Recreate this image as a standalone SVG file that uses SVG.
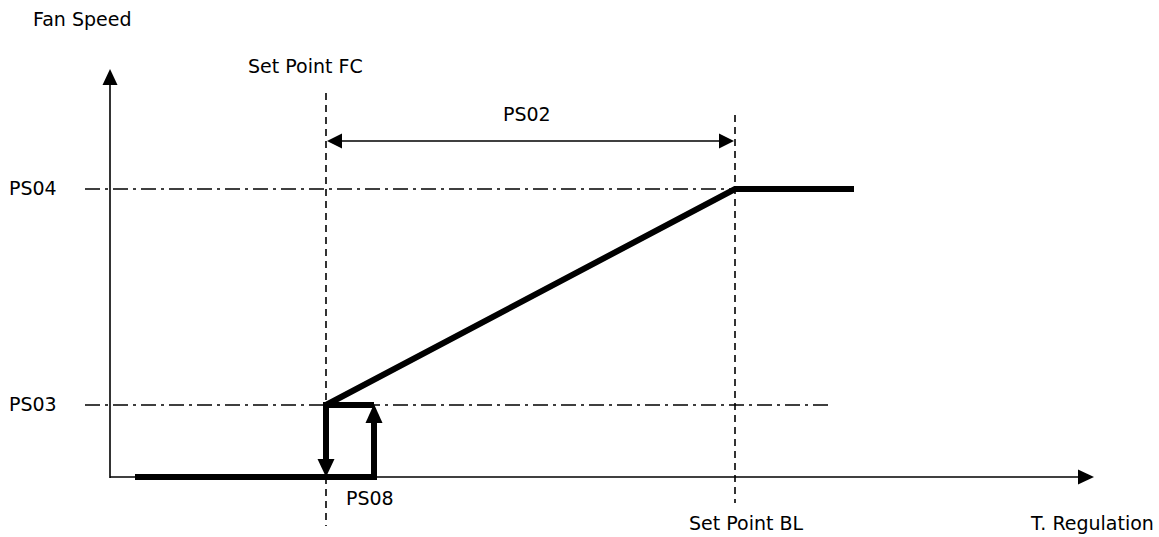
<svg xmlns="http://www.w3.org/2000/svg" width="1159" height="537" viewBox="0 0 1159 537">
<style>
text{font-family:"DejaVu Sans","Liberation Sans",sans-serif;font-size:19px;fill:#000}
.axis{stroke:#000;stroke-width:1.6;fill:none}
.dashdot{stroke:#000;stroke-width:1.6;stroke-dasharray:15 5 3 5;fill:none}
.dash{stroke:#000;stroke-width:1.6;stroke-dasharray:7 5;fill:none}
.thick{stroke:#000;stroke-width:6;fill:none;stroke-linejoin:miter}
.dim{stroke:#000;stroke-width:1.6;fill:none}
</style>
<rect width="1159" height="537" fill="#fff"/>
<g id="guides">
<line class="dashdot" x1="85" y1="189" x2="735" y2="189"/>
<line class="dashdot" x1="85" y1="405" x2="830" y2="405"/>
<line class="dash" x1="326" y1="93" x2="326" y2="526"/>
<line class="dash" x1="735" y1="115" x2="735" y2="503"/>
</g>
<g id="axes">
<line class="axis" x1="110" y1="478" x2="110" y2="84"/>
<polygon points="110,69 102.5,85 117.5,85" fill="#000"/>
<line class="axis" x1="110" y1="477" x2="1079" y2="477"/>
<polygon points="1094,477 1078,469.5 1078,484.5" fill="#000"/>
</g>
<g id="connectors">
<line class="dim" x1="340" y1="141" x2="721" y2="141"/>
<polygon points="327,141 342,133.5 342,148.5" fill="#000"/>
<polygon points="734,141 719,133.5 719,148.5" fill="#000"/>
<polyline class="thick" points="135,477 374,477 374,422"/>
<polygon points="374,404 365.5,423 382.5,423" fill="#000"/>
<polyline class="thick" points="326,460 326,405 374,405"/>
<polygon points="326,477 317.5,459 334.5,459" fill="#000"/>
<polyline class="thick" points="326,405 735,189 854,189"/>
</g>
<g id="labels">
<text x="33" y="26">Fan Speed</text>
<text x="248" y="73">Set Point FC</text>
<text x="503" y="121">PS02</text>
<text x="9" y="195">PS04</text>
<text x="9" y="411">PS03</text>
<text x="346" y="505">PS08</text>
<text x="689" y="530">Set Point BL</text>
<text x="1031" y="530">T. Regulation</text>
</g>
</svg>
